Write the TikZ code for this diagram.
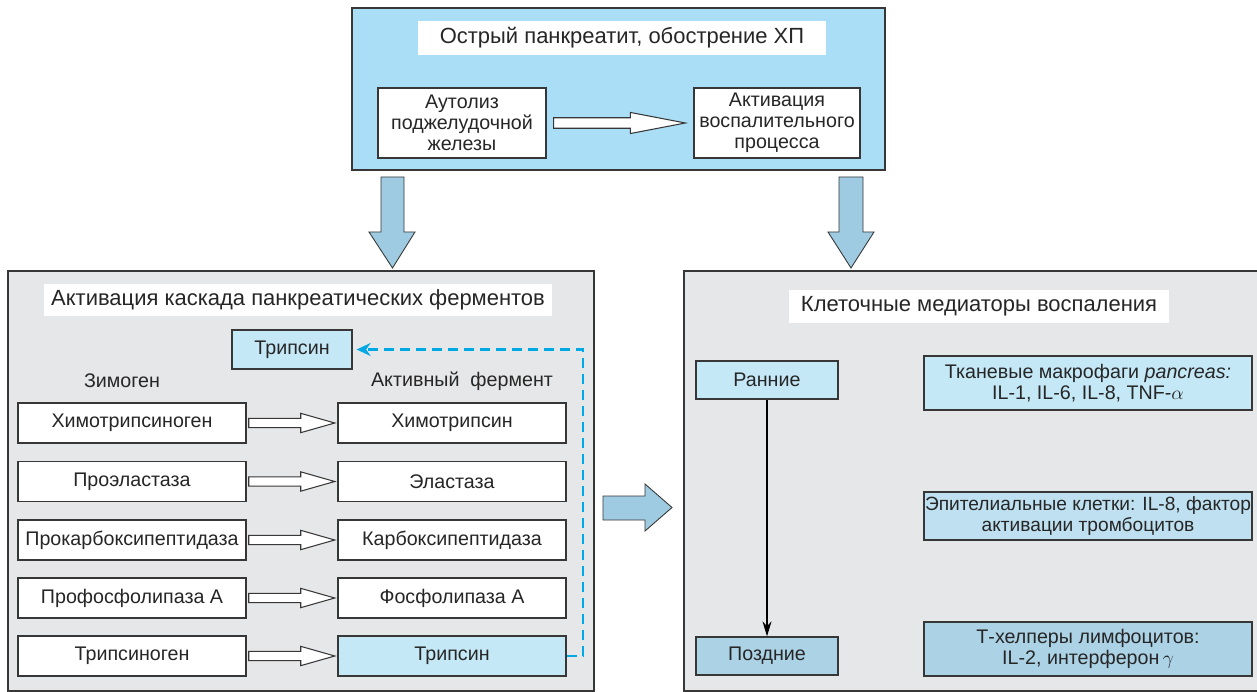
\documentclass[tikz,border=0pt]{standalone}
\usepackage{fontspec}
\setmainfont{Liberation Sans}
\usetikzlibrary{arrows.meta,calc}
\definecolor{edge}{RGB}{55,55,55}
\definecolor{topblue}{RGB}{170,222,246}
\definecolor{panelgray}{RGB}{230,231,232}
\definecolor{lblue}{RGB}{197,232,247}
\definecolor{mblue}{RGB}{190,224,240}
\definecolor{dblue}{RGB}{172,210,230}
\definecolor{bigarrow}{RGB}{158,203,226}
\definecolor{dashblue}{RGB}{0,168,230}
\tikzset{
  txt/.style={font=\fontsize{11.2}{11.8}\selectfont, align=center, inner sep=0pt, text=black!85},
  ttl/.style={font=\fontsize{12.5}{14}\selectfont, align=center, inner sep=0pt, fill=white, text=black!85},
  panel/.style={draw=edge, line width=0.8pt, inner sep=0pt},
  wbox/.style={txt, draw=edge, line width=0.75pt, fill=white},
  bbox/.style={txt, draw=edge, line width=0.75pt, fill=lblue},
  dbox/.style={txt, draw=edge, line width=0.75pt, fill=dblue},
  harr/.style={draw=edge, line width=0.6pt, fill=white},
  barr/.style={draw=edge, line width=0.5pt, fill=bigarrow},
  fb/.style={draw=dashblue, line width=1.4pt, dash pattern=on 0.2cm off 0.12cm},
}
\newcommand\hollowarrow[2]{%
  \draw[harr] let \p1=($(#1.east)+(1.2pt,0)$), \p2=($(#2.west)+(-1.5pt,0)$) in
    (\x1,\y1+2.6pt) -- (\x2-0.68cm,\y1+2.6pt) -- (\x2-0.68cm,\y1+5.5pt) -- (\x2,\y1)
    -- (\x2-0.68cm,\y1-5.5pt) -- (\x2-0.68cm,\y1-2.6pt) -- (\x1,\y1-2.6pt) -- cycle;}
\begin{document}
\begin{tikzpicture}[x=0.02cm,y=-0.02cm]
\clip (0,0) rectangle (1257,692);
\fill[white] (0,0) rectangle (1257,692);

% top panel
\node[panel, fill=topblue, minimum width=10.66cm, minimum height=3.24cm] (top) at (618.5,89) {};
\node[ttl, minimum width=8.16cm, minimum height=0.68cm] (t1) at (622,38) {Острый панкреатит, обострение ХП};
\node[wbox, minimum width=3.36cm, minimum height=1.4cm] (aut) at (462,123) {Аутолиз\\поджелудочной\\железы};
\node[wbox, minimum width=3.32cm, minimum height=1.4cm] (act) at (777,123) {Активация\\воспалительного\\процесса};
\draw[harr] let \p1=($(aut.east)+(0.14cm,0)$), \p2=($(act.west)+(-0.16cm,0)$) in
    (\x1,\y1+3pt) -- (\x2-1.1cm,\y1+3pt) -- (\x2-1.1cm,\y1+6pt) -- (\x2,\y1)
    -- (\x2-1.1cm,\y1-6pt) -- (\x2-1.1cm,\y1-3pt) -- (\x1,\y1-3pt) -- cycle;

% left panel
\node[panel, fill=panelgray, minimum width=11.72cm, minimum height=8.4cm] (left) at (301,481) {};
\node[ttl, minimum width=10.16cm, minimum height=0.64cm] (t2) at (298,300) {Активация каскада панкреатических ферментов};
\node[bbox, minimum width=2.4cm, minimum height=0.78cm] (tr1) at (292,349.5) {Трипсин};
\node[txt] (zim) at (122,381) {Зимоген};
\node[txt] (aktf) at (462,381) {Активный\ \ фермент};

\node[wbox, minimum width=4.56cm, minimum height=0.8cm] (z1) at (132,423) {Химотрипсиноген};
\node[wbox, minimum width=4.56cm, minimum height=0.8cm] (a1) at (452,423) {Химотрипсин};
\node[wbox, minimum width=4.56cm, minimum height=0.8cm] (z2) at (132,481.5) {Проэластаза};
\node[wbox, minimum width=4.56cm, minimum height=0.8cm] (a2) at (452,481.5) {Эластаза};
\node[wbox, minimum width=4.56cm, minimum height=0.8cm] (z3) at (132,540) {Прокарбоксипептидаза};
\node[wbox, minimum width=4.56cm, minimum height=0.8cm] (a3) at (452,540) {Карбоксипептидаза};
\node[wbox, minimum width=4.56cm, minimum height=0.8cm] (z4) at (132,598) {Профосфолипаза А};
\node[wbox, minimum width=4.56cm, minimum height=0.8cm] (a4) at (452,598) {Фосфолипаза А};
\node[wbox, minimum width=4.56cm, minimum height=0.8cm] (z5) at (132,656) {Трипсиноген};
\node[bbox, minimum width=4.56cm, minimum height=0.8cm] (a5) at (452,656) {Трипсин};
\foreach \i in {1,...,5} {\hollowarrow{z\i}{a\i}}

\coordinate (dc) at (583,0);
\draw[fb, -{Stealth[length=0.28cm,width=0.26cm]}] (a5.east) -- (a5.east -| dc) -- (tr1.east -| dc) -- ($(tr1.east)+(0.08cm,0)$);

% right panel
\node[panel, fill=panelgray, minimum width=11.6cm, minimum height=8.4cm] (right) at (974,481) {};
\node[ttl, minimum width=7.6cm, minimum height=0.68cm] (t3) at (979,306.5) {Клеточные медиаторы воспаления};
\node[bbox, minimum width=2.84cm, minimum height=0.76cm] (ran) at (767,380) {Ранние};
\node[dbox, minimum width=2.84cm, minimum height=0.76cm] (poz) at (767,656) {Поздние};
\draw[line width=0.6pt, -{Stealth[length=0.3cm,width=0.18cm]}] (ran) -- (poz);
\node[bbox, minimum width=6.56cm, minimum height=1.08cm] (mac) at (1088,383) {Тканевые макрофаги \textit{pancreas:}\\IL-1, IL-6, IL-8, TNF-$\alpha$};
\node[txt, font=\fontsize{10.9}{11.8}\selectfont, draw=edge, line width=0.75pt, fill=mblue, minimum width=6.56cm, minimum height=0.96cm] (epi) at (1088,516) {Эпителиальные клетки: IL-8, фактор\\активации тромбоцитов};
\node[dbox, minimum width=6.56cm, minimum height=1.08cm] (th) at (1088,649) {Т-хелперы лимфоцитов:\\IL-2, интерферон\,$\gamma$};

% big block arrows
\draw[barr] (381,177) -- (404,177) -- (404,232) -- (415,232) -- (392.5,268) -- (369,232) -- (381,232) -- cycle;
\draw[barr] (839,177) -- (863,177) -- (863,232) -- (874,232) -- (851,268) -- (828,232) -- (839,232) -- cycle;
\draw[barr] (603,496) -- (645,496) -- (645,484) -- (672,507.5) -- (645,531) -- (645,520) -- (603,520) -- cycle;
\end{tikzpicture}
\end{document}
